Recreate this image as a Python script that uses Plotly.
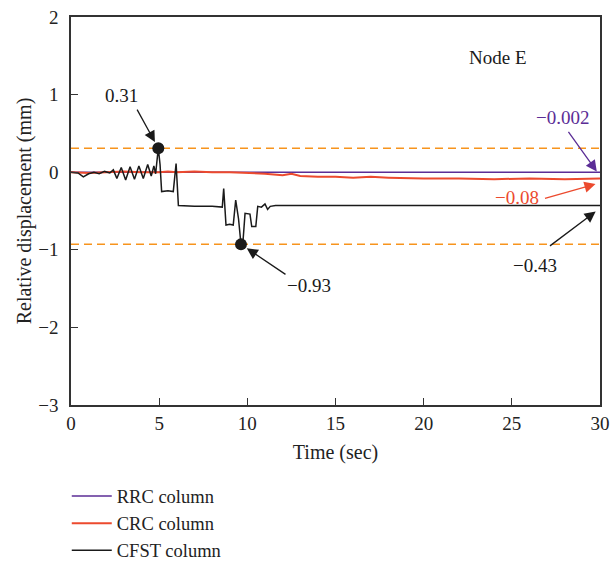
import plotly.graph_objects as go

# ---- data ----
t_cfst = [0, 0.4, 0.7, 1.0, 1.3, 1.6, 1.9, 2.2, 2.4, 2.6, 2.85, 3.1, 3.35, 3.6, 3.85,
          4.1, 4.35, 4.55, 4.7, 4.8, 4.95, 5.05, 5.14, 5.5, 5.8, 5.96, 6.09, 7.0, 8.0,
          8.58, 8.66, 8.79, 9.0, 9.2, 9.34, 9.5, 9.64, 9.75, 9.87, 10.15, 10.25, 10.48,
          10.59, 10.8, 11.0, 11.15, 11.3, 11.6, 12, 15, 20, 25, 30]
v_cfst = [0, -0.01, -0.06, -0.02, 0.0, -0.02, 0.01, -0.01, 0.03, -0.08, 0.06, -0.10, 0.07,
          -0.09, 0.08, -0.08, 0.10, -0.05, 0.08, -0.02, 0.31, 0.10, -0.25, -0.24, -0.25,
          0.11, -0.43, -0.44, -0.44, -0.45, -0.21, -0.68, -0.67, -0.68, -0.36, -0.60,
          -0.93, -0.90, -0.53, -0.54, -0.70, -0.70, -0.44, -0.45, -0.41, -0.48, -0.44,
          -0.43, -0.43, -0.43, -0.43, -0.43, -0.43]

t_crc = [0, 1, 2, 3, 4, 5, 5.5, 6, 7, 8, 9, 10, 11, 12, 12.5, 13, 14, 15, 16, 17, 18, 20,
         22, 24, 26, 28, 30]
v_crc = [0.0, -0.01, 0.0, 0.01, 0.0, 0.0, 0.01, 0.0, 0.01, 0.0, 0.0, -0.01, -0.02, -0.04,
         -0.02, -0.05, -0.06, -0.06, -0.07, -0.06, -0.07, -0.08, -0.08, -0.09, -0.08,
         -0.09, -0.08]

t_rrc = [0, 30]
v_rrc = [-0.002, -0.002]

peak_points_t = [4.95, 9.64]
peak_points_v = [0.31, -0.93]
limit_values = [0.31, -0.93]

x_ticks = [0, 5, 10, 15, 20, 25, 30]
y_ticks = [-3, -2, -1, 0, 1, 2]

series_names = ["RRC column", "CRC column", "CFST column"]

FONT = "Liberation Serif"
PURPLE = "#5B2D96"
RED = "#EC4A2E"
BLACK = "#1a1a1a"
ORANGE = "#F7941D"
TXT = "#222222"

fig = go.Figure()

fig.add_trace(go.Scatter(x=t_rrc, y=v_rrc, mode="lines", name=series_names[0],
                         line=dict(color=PURPLE, width=1.5)))
fig.add_trace(go.Scatter(x=t_crc, y=v_crc, mode="lines", name=series_names[1],
                         line=dict(color=RED, width=2)))
fig.add_trace(go.Scatter(x=t_cfst, y=v_cfst, mode="lines", name=series_names[2],
                         line=dict(color=BLACK, width=1.5)))
fig.add_trace(go.Scatter(x=peak_points_t, y=peak_points_v, mode="markers",
                         showlegend=False,
                         marker=dict(color=BLACK, size=12)))

for v in limit_values:
    fig.add_hline(y=v, line=dict(color=ORANGE, width=1.5, dash="8px,5px"), layer="below")

annos = [
    dict(text="0.31", x=2.84, y=0.99, color=BLACK),
    dict(text="\u22120.93", x=13.5, y=-1.46, color=BLACK),
    dict(text="\u22120.002", x=27.9, y=0.71, color=PURPLE),
    dict(text="\u22120.08", x=25.3, y=-0.33, color=RED),
    dict(text="\u22120.43", x=26.3, y=-1.2, color=BLACK),
    dict(text="Node E", x=24.2, y=1.48, color=BLACK),
]
for a in annos:
    fig.add_annotation(x=a["x"], y=a["y"], text=a["text"], showarrow=False,
                       font=dict(family=FONT, size=19, color=a["color"]))

arrows = [
    dict(x=4.95, y=0.31, ax=-22, ay=-40, color=BLACK, standoff=7),
    dict(x=9.64, y=-0.93, ax=46, ay=31, color=BLACK, standoff=7),
    dict(x=29.85, y=-0.002, ax=-30, ay=-42, color=PURPLE, standoff=1),
    dict(x=29.8, y=-0.15, ax=-53, ay=15, color=RED, standoff=1),
    dict(x=29.8, y=-0.50, ax=-48, ay=36, color=BLACK, standoff=1),
]
for a in arrows:
    fig.add_annotation(x=a["x"], y=a["y"], ax=a["ax"], ay=a["ay"], text="",
                       showarrow=True, arrowhead=2, arrowsize=1.7, arrowwidth=1.3,
                       arrowcolor=a["color"], standoff=a["standoff"])

axis_common = dict(showline=True, linecolor="#333333", linewidth=1.5, mirror=True,
                   ticks="inside", ticklen=7, tickwidth=1.3, tickcolor="#333333",
                   showgrid=False, zeroline=False, automargin=False,
                   tickfont=dict(family=FONT, size=19, color=TXT))

fig.update_xaxes(range=[0, 30], tickvals=x_ticks, ticklabelstandoff=0,
                 title=dict(text="Time (sec)", font=dict(family=FONT, size=20, color=TXT),
                            standoff=12),
                 **axis_common)
fig.update_yaxes(range=[-3, 2], tickvals=y_ticks, ticklabelstandoff=7,
                 tickformat="d",
                 title=dict(text="Relative displacement (mm)",
                            font=dict(family=FONT, size=20, color=TXT), standoff=1),
                 **axis_common)

fig.update_layout(
    width=611, height=567,
    margin=dict(l=71, r=11, t=17, b=162, autoexpand=False),
    plot_bgcolor="white", paper_bgcolor="white",
    font=dict(family=FONT, size=18, color=TXT),
    showlegend=True,
    legend=dict(x=-0.008, y=-0.187, xanchor="left", yanchor="top",
                font=dict(family=FONT, size=18.5, color=TXT),
                bgcolor="rgba(0,0,0,0)", tracegroupgap=0, itemwidth=40),
)

fig.write_html("out.html")
